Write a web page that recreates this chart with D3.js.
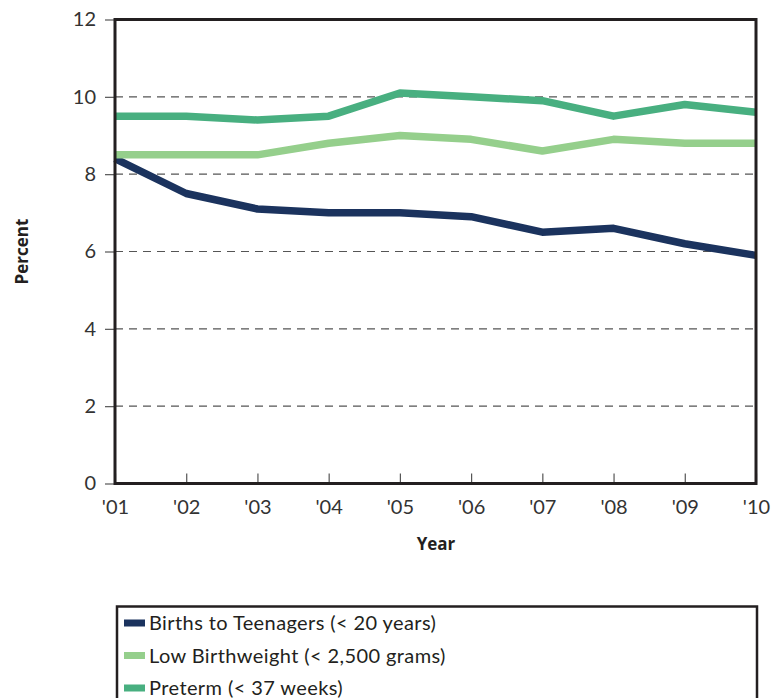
<!DOCTYPE html>
<html>
<head>
<meta charset="utf-8">
<script src="https://cdn.jsdelivr.net/npm/d3@7"></script>
<style>
  html, body { margin: 0; padding: 0; background: #fff; }
  svg { display: block; font-family: Lato, "Open Sans", sans-serif; }
</style>
</head>
<body>
<svg id="chart" width="782" height="698"></svg>
<script>
// Years on the x axis
const years = ["'01", "'02", "'03", "'04", "'05", "'06", "'07", "'08", "'09", "'10"];

// Percent of births, by indicator
const teenBirths = [8.4, 7.5, 7.1, 7.0, 7.0, 6.9, 6.5, 6.6, 6.2, 5.9];
const lowBirthweight = [8.5, 8.5, 8.5, 8.8, 9.0, 8.9, 8.6, 8.9, 8.8, 8.8];
const preterm = [9.5, 9.5, 9.4, 9.5, 10.1, 10.0, 9.9, 9.5, 9.8, 9.6];

const yTicks = [0, 2, 4, 6, 8, 10, 12];

const seriesNames = [
  "Births to Teenagers (< 20 years)",
  "Low Birthweight (< 2,500 grams)",
  "Preterm (< 37 weeks)"
];
const seriesColors = ["#1b335e", "#95cf8c", "#48af80"];
const seriesValues = [teenBirths, lowBirthweight, preterm];

(function draw() {
  const svg = d3.select("#chart");
  const plotL = 115, plotR = 756, plotT = 19.5, plotB = 483.5;

  const x = d3.scalePoint().domain(years).range([plotL, plotR]);
  const y = d3.scaleLinear().domain([0, 12]).range([plotB, plotT]);

  // Dashed horizontal gridlines
  svg.append("g")
    .selectAll("line")
    .data(yTicks.filter(t => t > 0 && t < 12))
    .join("line")
    .attr("x1", plotL).attr("x2", plotR)
    .attr("y1", d => y(d)).attr("y2", d => y(d))
    .attr("stroke", "#555")
    .attr("stroke-width", 1.2)
    .attr("stroke-dasharray", "8,6");

  // Y axis: outward ticks and labels
  const yAxis = svg.append("g")
    .attr("transform", `translate(${plotL},0)`)
    .call(d3.axisLeft(y).tickValues(yTicks).tickSize(10).tickPadding(9).tickFormat(d3.format("d")));
  yAxis.select(".domain").remove();
  yAxis.selectAll(".tick line").attr("stroke", "#555").attr("stroke-width", 1.2);
  yAxis.selectAll(".tick text")
    .attr("font-size", 20).attr("fill", "#333")
    .attr("font-family", "Lato, sans-serif");

  // X axis: inward ticks and labels
  const xAxis = svg.append("g")
    .attr("transform", `translate(0,${plotB})`)
    .call(d3.axisBottom(x).tickSize(-10).tickPadding(16));
  xAxis.select(".domain").remove();
  xAxis.selectAll(".tick line").attr("stroke", "#555").attr("stroke-width", 1.2);
  xAxis.selectAll(".tick text")
    .attr("font-size", 20).attr("fill", "#333")
    .attr("font-family", "Lato, sans-serif");

  // Lines
  const line = d3.line()
    .x((d, i) => x(years[i]))
    .y(d => y(d))
    .curve(d3.curveLinear);

  svg.append("g")
    .selectAll("path")
    .data(seriesValues)
    .join("path")
    .attr("d", d => line(d))
    .attr("fill", "none")
    .attr("stroke", (d, i) => seriesColors[i])
    .attr("stroke-width", 7.5)
    .attr("stroke-linejoin", "round");

  // Plot frame
  svg.append("rect")
    .attr("x", plotL).attr("y", plotT)
    .attr("width", plotR - plotL).attr("height", plotB - plotT)
    .attr("fill", "none")
    .attr("stroke", "#231f20")
    .attr("stroke-width", 3);

  // Axis titles
  svg.append("text")
    .attr("transform", `translate(28,${(plotT + plotB) / 2}) rotate(-90)`)
    .attr("text-anchor", "middle")
    .attr("font-family", "'Open Sans', sans-serif")
    .attr("font-size", 17).attr("font-weight", "bold").attr("fill", "#231f20")
    .text("Percent");

  svg.append("text")
    .attr("x", 436).attr("y", 550)
    .attr("text-anchor", "middle")
    .attr("font-family", "'Open Sans', sans-serif")
    .attr("font-size", 17).attr("font-weight", "bold").attr("fill", "#231f20")
    .text("Year");

  // Legend
  const legend = svg.append("g");
  legend.append("rect")
    .attr("x", 117).attr("y", 606.5)
    .attr("width", 640).attr("height", 110)
    .attr("fill", "#fff")
    .attr("stroke", "#231f20")
    .attr("stroke-width", 2.5);

  const rows = legend.selectAll("g.row")
    .data(seriesNames)
    .join("g")
    .attr("class", "row")
    .attr("transform", (d, i) => `translate(124,${623 + i * 32.5})`);

  rows.append("rect")
    .attr("x", 0).attr("y", -3.5)
    .attr("width", 21).attr("height", 7)
    .attr("fill", (d, i) => seriesColors[i]);

  rows.append("text")
    .attr("x", 25).attr("y", 0)
    .attr("dy", "0.35em")
    .attr("font-size", 20).attr("fill", "#231f20")
    .attr("letter-spacing", 0.4)
    .text(d => d);
})();
</script>
</body>
</html>
